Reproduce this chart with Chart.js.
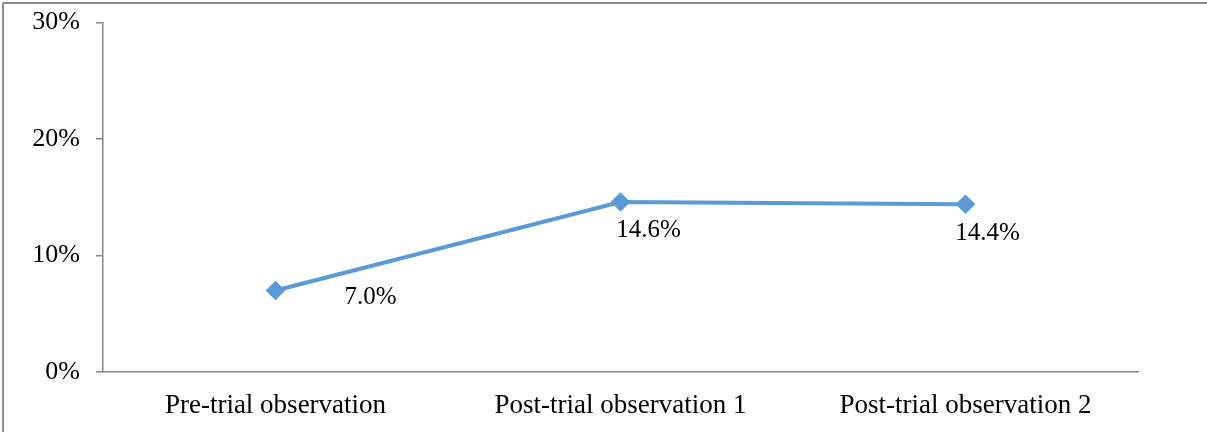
<!DOCTYPE html>
<html>

<head>
    <title>Observation chart</title>
    <style>
        html,
        body {
            margin: 0;
            padding: 0;
            width: 1207px;
            height: 432px;
            overflow: hidden;
            background: white;
        }

        /* o canvas sobe 9px pra o topo do eixo cair em y=22 */
        .chart-box {
            position: absolute;
            left: 0;
            top: -9px;
            width: 1207px;
            height: 441px;
        }
    </style>
</head>

<body>
    <div class="chart-box">
        <canvas id="grafico" width="1207" height="441"></canvas>
    </div>

    <script src="https://cdn.jsdelivr.net/npm/chart.js"></script>
    <script>
        // dados
        const categorias = ['Pre-trial observation', 'Post-trial observation 1', 'Post-trial observation 2'];
        const valores = [7.0, 14.6, 14.4];
        const rotulos = ['7.0%', '14.6%', '14.4%'];
        const ticksY = [0, 10, 20, 30];

        // deslocamento dos rotulos em relacao ao ponto (px)
        const deslocX = [95, 28, 22];
        const deslocY = [7, 28, 29];

        const fonte = '"Liberation Serif", "Times New Roman", serif';
        const corEixo = '#868686';

        // moldura: so topo e esquerda aparecem na imagem
        const molduraPlugin = {
            id: 'moldura',
            beforeDraw(chart) {
                const ctx = chart.ctx;
                ctx.save();
                ctx.strokeStyle = '#8e8e8e';
                ctx.lineWidth = 2;
                ctx.beginPath();
                ctx.moveTo(3, chart.height);
                ctx.lineTo(3, 12);
                ctx.lineTo(chart.width, 12);
                ctx.stroke();
                ctx.restore();
            }
        };

        // plugin simples pra escrever os rotulos dos pontos
        const rotulosPlugin = {
            id: 'rotulos',
            afterDatasetsDraw(chart) {
                const ctx = chart.ctx;
                const meta = chart.getDatasetMeta(0);
                ctx.save();
                ctx.font = '25px ' + fonte;
                ctx.fillStyle = '#000';
                ctx.textAlign = 'center';
                ctx.textBaseline = 'middle';
                meta.data.forEach(function (pt, i) {
                    ctx.fillText(rotulos[i], pt.x + deslocX[i], pt.y + deslocY[i]);
                });
                ctx.restore();
            }
        };

        const ctx = document.getElementById('grafico').getContext('2d');

        new Chart(ctx, {
            type: 'line',
            data: {
                labels: categorias,
                datasets: [{
                    data: valores,
                    borderColor: '#5b9bd5',
                    backgroundColor: '#5b9bd5',
                    borderWidth: 4,
                    pointStyle: 'rectRot',
                    pointRadius: 7,
                    pointHoverRadius: 7,
                    tension: 0,
                    fill: false
                }]
            },
            options: {
                responsive: false,
                animation: false,
                events: [],
                layout: {
                    padding: { left: 0, right: 69, top: 13, bottom: 0 }
                },
                plugins: {
                    legend: { display: false },
                    tooltip: { enabled: false }
                },
                scales: {
                    x: {
                        offset: true,
                        grid: { display: false },
                        border: { display: true, color: corEixo, width: 1.5 },
                        ticks: {
                            color: '#000',
                            font: { family: fonte, size: 27 },
                            padding: 10,
                            maxRotation: 0
                        },
                        afterFit(scale) { scale.height = 60; }
                    },
                    y: {
                        min: 0,
                        max: 30,
                        afterBuildTicks(scale) {
                            scale.ticks = ticksY.map(v => ({ value: v }));
                        },
                        grid: {
                            drawOnChartArea: false,
                            color: corEixo,
                            lineWidth: 1.5,
                            tickLength: 7
                        },
                        border: { display: true, color: corEixo, width: 1.5 },
                        ticks: {
                            color: '#000',
                            font: { family: fonte, size: 26 },
                            padding: 16,
                            callback: v => v + '%'
                        },
                        afterFit(scale) { scale.width = 103; }
                    }
                }
            },
            plugins: [molduraPlugin, rotulosPlugin]
        });
    </script>
</body>

</html>
